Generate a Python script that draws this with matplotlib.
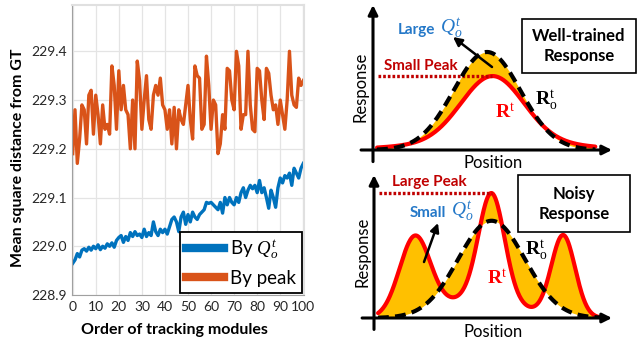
import numpy as np
import matplotlib
matplotlib.use("Agg")
from matplotlib import pyplot as plt
from matplotlib.patches import Rectangle

plt.rcParams['font.family'] = ['Lato', 'DejaVu Sans']
plt.rcParams['mathtext.fontset'] = 'custom'
plt.rcParams['mathtext.it'] = 'Liberation Serif:italic'
plt.rcParams['mathtext.rm'] = 'Liberation Serif'
plt.rcParams['mathtext.bf'] = 'Liberation Serif:bold'

# left chart data
by_peak = [229.19, 229.28, 229.17, 229.22, 229.29, 229.28, 229.21, 229.31, 229.32, 229.23,
           229.31, 229.27, 229.21, 229.29, 229.24, 229.25, 229.23, 229.37, 229.33, 229.24,
           229.36, 229.28, 229.33, 229.28, 229.27, 229.20, 229.30, 229.20, 229.38, 229.34,
           229.24, 229.30, 229.35, 229.26, 229.24, 229.31, 229.33, 229.31, 229.345, 229.29,
           229.28, 229.24, 229.28, 229.21, 229.285, 229.20, 229.28, 229.26, 229.25, 229.29,
           229.33, 229.26, 229.22, 229.37, 229.35, 229.345, 229.24, 229.25, 229.39, 229.33,
           229.24, 229.30, 229.29, 229.19, 229.21, 229.27, 229.24, 229.365, 229.36, 229.30,
           229.28, 229.40, 229.37, 229.24, 229.27, 229.27, 229.40, 229.29, 229.24, 229.235,
           229.365, 229.36, 229.30, 229.26, 229.365, 229.355, 229.31, 229.28, 229.29, 229.25,
           229.30, 229.27, 229.24, 229.30, 229.40, 229.31, 229.29, 229.285, 229.345, 229.33,
           229.34]
by_q = [228.965, 228.972, 228.985, 228.978, 228.992, 228.995, 228.99, 228.998, 228.992, 229.0,
        228.995, 229.003, 228.993, 229.0, 228.996, 229.005, 229.0, 229.007, 228.998, 229.012,
        229.018, 229.022, 229.008, 229.02, 229.012, 229.028, 229.02, 229.03, 229.022, 229.025,
        229.018, 229.035, 229.02, 229.028, 229.022, 229.05, 229.03, 229.022, 229.035, 229.028,
        229.035, 229.025, 229.04, 229.055, 229.06, 229.05, 229.03, 229.06, 229.07, 229.045,
        229.065, 229.05, 229.07, 229.06, 229.055, 229.065, 229.07, 229.075, 229.09, 229.088,
        229.09, 229.085, 229.08, 229.075, 229.09, 229.068, 229.1, 229.085, 229.1, 229.09,
        229.085, 229.1, 229.09, 229.11, 229.12, 229.1, 229.115, 229.125, 229.118, 229.125,
        229.11, 229.135, 229.11, 229.12, 229.1, 229.078, 229.115, 229.1, 229.08, 229.12,
        229.14, 229.13, 229.145, 229.14, 229.15, 229.125, 229.16, 229.15, 229.14, 229.16,
        229.17]
xticks = list(range(0, 101, 10))
yticks = [228.9, 229.0, 229.1, 229.2, 229.3, 229.4]

# schematic curves: (center, height, width) of gaussian bumps
top_red = [(0.5, 0.45, 0.13), (0.5, 0.06, 0.30)]
top_black = [(0.477, 0.676, 0.14)]
bot_red = [(0.172, 0.55, 0.065), (0.494, 0.73, 0.054), (0.795, 0.57, 0.05), (0.45, 0.15, 0.15)]
bot_black = [(0.494, 0.68, 0.14)]

BLUE = '#0072BD'
ORANGE = '#D95319'
DARKRED = '#C00000'
TXTBLUE = '#2478C8'
GOLD = '#FFC000'


def bumps(xs, params):
    y = np.zeros_like(xs)
    for c, h, w in params:
        y += h * np.exp(-(xs - c) ** 2 / (2 * w ** 2))
    return y


fig = plt.figure(figsize=(6.4, 3.44), dpi=100)

# ---- left chart
ax = fig.add_axes([72 / 640, 1 - 295 / 344, 232 / 640, 290 / 344])
ax.plot(range(len(by_q)), by_q, color=BLUE, lw=2.4, label=r'By $Q_o^t$')
ax.plot(range(len(by_peak)), by_peak, color=ORANGE, lw=2.4, label='By peak')
ax.set_xlim(-0.3, 100.3)
ax.set_ylim(228.9, 229.495)
ax.set_xticks(xticks)
ax.set_yticks(yticks)
ax.set_yticklabels([f"{v:.1f}" for v in yticks])
ax.grid(True, color='#e4e4e4', lw=0.9)
ax.set_axisbelow(True)
ax.tick_params(length=0, labelsize=10, colors='#262626', pad=4)
for s in ['top', 'right']:
    ax.spines[s].set_color('#e0e0e0')
    ax.spines[s].set_linewidth(1.5)
for s in ['left', 'bottom']:
    ax.spines[s].set_color('#a0a0a0')
leg = ax.legend(loc='lower right', bbox_to_anchor=(1.0, 0.0), borderaxespad=0.1,
                fontsize=13.5, handlelength=2.0, handletextpad=0.3, fancybox=False,
                edgecolor='black', framealpha=1, borderpad=0.35, labelspacing=0.45)
leg.get_frame().set_linewidth(1.3)
for h in leg.get_lines():
    h.set_linewidth(6)
fig.text(18 / 640, 1 - 158 / 344, 'Mean square distance from GT', rotation=90,
         ha='center', va='center', fontsize=11.5, fontweight='bold')
fig.text(174 / 640, 1 - 330 / 344, 'Order of tracking modules',
         ha='center', va='center', fontsize=11.5, fontweight='bold')


# ---- right diagrams
def diagram(rect, red_p, black_p, x_end):
    d = fig.add_axes(rect)
    d.set_xlim(0, 1)
    d.set_ylim(0, 1)
    d.axis('off')
    xs = np.linspace(0.017, x_end, 400)
    red = bumps(xs, red_p)
    black = bumps(xs, black_p)
    d.fill_between(xs, red, black, color=GOLD, lw=0, zorder=1)
    d.plot(xs, red, color='red', lw=3, zorder=2, solid_capstyle='round')
    d.plot(xs, black, color='black', lw=3, ls=(0, (2.6, 1.5)), zorder=3)
    i = np.argmax(red)
    d.plot([0.02, xs[i]], [red[i], red[i]], color=DARKRED, lw=2.4, ls=(0, (0.8, 0.6)), zorder=2)
    d.annotate('', xy=(1.0, 0), xytext=(-0.05, 0),
               arrowprops=dict(arrowstyle='-|>', lw=2.2, color='black', mutation_scale=14,
                               shrinkA=0, shrinkB=0), annotation_clip=False)
    d.annotate('', xy=(0, 1.0), xytext=(0, -0.08),
               arrowprops=dict(arrowstyle='-|>', lw=2.2, color='black', mutation_scale=14,
                               shrinkA=0, shrinkB=0), annotation_clip=False)
    return d


diagram([373 / 640, 1 - 150 / 344, 239 / 640, 145 / 344], top_red, top_black, 0.93)
diagram([374 / 640, 1 - 318 / 344, 238 / 640, 143 / 344], bot_red, bot_black, 0.95)

# overlay in pixel coordinates for labels
ov = fig.add_axes([0, 0, 1, 1], facecolor='none')
ov.set_xlim(0, 640)
ov.set_ylim(344, 0)
ov.axis('off')

arrow = dict(arrowstyle='-|>', lw=1.8, color='black', mutation_scale=13, shrinkA=0, shrinkB=0)


def word_with_q(x, y, word):
    t = ov.text(x, y, word, color=TXTBLUE, fontsize=11, fontweight='bold', va='center')
    ov.annotate(r'$Q_o^t$', xy=(1, 0.5), xycoords=t, xytext=(3, 1), textcoords='offset points',
                color=TXTBLUE, fontsize=14, va='center', ha='left')


# top
word_with_q(398, 30, 'Large')
ov.annotate('', xy=(453, 37), xytext=(492, 67), arrowprops=arrow)
ov.text(384, 66, 'Small Peak', color=DARKRED, fontsize=11, fontweight='bold', va='center')
ov.add_patch(Rectangle((522, 19), 114, 54, fill=True, facecolor='white', edgecolor='black', lw=1.2))
ov.text(579, 46, 'Well-trained\nResponse', ha='center', va='center', fontsize=12,
        fontweight='bold', linespacing=1.3)
ov.text(546, 101, r'$\mathbf{R}_\mathrm{o}^\mathrm{t}$', ha='center', va='center', fontsize=14)
ov.text(505, 111, r'$\mathbf{R}^\mathrm{t}$', color='red', ha='center', va='center', fontsize=14)
ov.text(493, 163, 'Position', ha='center', va='center', fontsize=12)
ov.text(361, 87, 'Response', ha='center', va='center', fontsize=12, rotation=90)

# bottom
ov.text(392, 182, 'Large Peak', color=DARKRED, fontsize=11, fontweight='bold', va='center')
word_with_q(410, 213, 'Small')
ov.annotate('', xy=(438, 223), xytext=(424, 262), arrowprops=arrow)
ov.add_patch(Rectangle((518, 175), 112, 57, fill=True, facecolor='white', edgecolor='black', lw=1.2))
ov.text(574, 204, 'Noisy\nResponse', ha='center', va='center', fontsize=12,
        fontweight='bold', linespacing=1.3)
ov.text(536, 251, r'$\mathbf{R}_\mathrm{o}^\mathrm{t}$', ha='center', va='center', fontsize=14)
ov.text(497, 277, r'$\mathbf{R}^\mathrm{t}$', color='red', ha='center', va='center', fontsize=14)
ov.text(493, 332, 'Position', ha='center', va='center', fontsize=12)
ov.text(362, 252, 'Response', ha='center', va='center', fontsize=12, rotation=90)

fig.savefig('out.png', dpi=100)
plt.close(fig)
